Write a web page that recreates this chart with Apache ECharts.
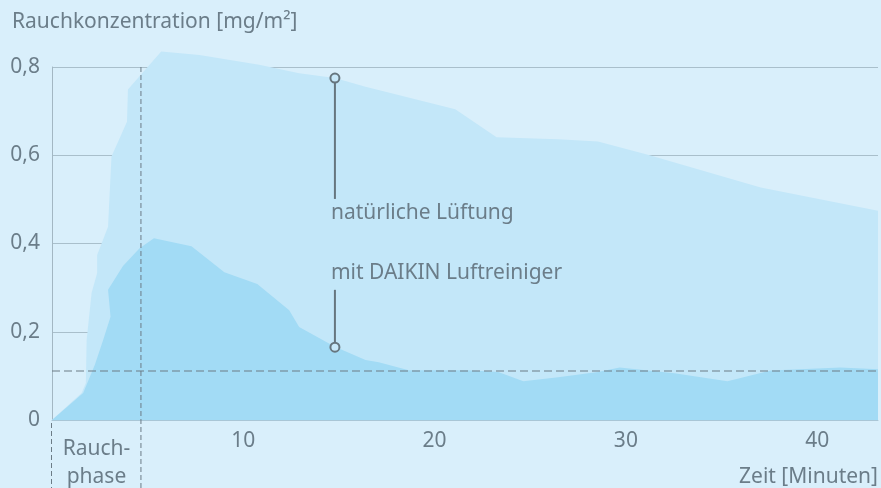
<!DOCTYPE html>
<html>
<head>
<meta charset="utf-8">
<script src="https://cdn.jsdelivr.net/npm/echarts@6/dist/echarts.min.js"></script>
<style>
  html, body { margin: 0; padding: 0; background: #d9effb; }
  #chart { width: 881px; height: 488px; }
</style>
</head>
<body>
<div id="chart"></div>
<script>
// ---- data ----
const yTitle = 'Rauchkonzentration [mg/m²]';
const xTitle = 'Zeit [Minuten]';
const xTicks = [10, 20, 30, 40];
const yTicks = [0, 0.2, 0.4, 0.6, 0.8];
const smokePhaseLabel = ['Rauch-', 'phase'];
const smokePhaseEnd = 4.65;     // minutes
const limitValue = 0.111;       // mg/m²

// natürliche Lüftung
const naturalX = [0, 1.55, 1.77, 1.81, 2.07, 2.36, 2.36, 2.93, 3.11, 3.92, 3.97, 5.71, 7.71, 10.83, 12.92, 14.79, 16.39, 21.08, 23.24, 26.46, 28.54, 31.15, 37.05, 43.18];
const naturalY = [0, 0.061, 0.084, 0.181, 0.288, 0.333, 0.374, 0.438, 0.597, 0.676, 0.749, 0.835, 0.827, 0.805, 0.786, 0.775, 0.755, 0.704, 0.641, 0.636, 0.631, 0.601, 0.527, 0.474];

// mit DAIKIN Luftreiniger
const daikinX = [0, 1.63, 2.24, 2.67, 3.06, 2.93, 3.71, 4.58, 5.33, 7.29, 9.01, 10.73, 12.4, 12.92, 14.79, 16.39, 17.08, 18.65, 21.77, 23.33, 24.64, 26.46, 28.54, 29.67, 32.54, 35.31, 37.57, 41.21, 43.18];
const daikinY = [0, 0.061, 0.125, 0.181, 0.234, 0.295, 0.349, 0.389, 0.412, 0.394, 0.335, 0.308, 0.249, 0.211, 0.166, 0.136, 0.131, 0.113, 0.113, 0.109, 0.088, 0.097, 0.109, 0.119, 0.106, 0.088, 0.112, 0.119, 0.115];

// annotations
const annotationX = 14.79;
const naturalLabel = 'natürliche Lüftung';
const naturalMarker = [0.775, 0.501];   // circle value, line end value
const naturalTextY = 0.469;
const daikinLabel = 'mit DAIKIN Luftreiniger';
const daikinMarker = [0.165, 0.295];
const daikinTextY = 0.333;

// ---- chart ----
const FONT = '"Noto Sans", sans-serif';
const FS = 21;
const TEXT = '#6b7d89';
const DASH = '#6c7c86';
const chart = echarts.init(document.getElementById('chart'), null, { renderer: 'canvas' });

const zip = (xs, ys) => xs.map((x, i) => [x, ys[i]]);
const xMax = 43.18;

chart.setOption({
  backgroundColor: '#d9effb',
  animation: false,
  title: {
    text: yTitle, left: 7, top: 7,
    textStyle: { fontFamily: FONT, fontSize: FS, fontWeight: 'normal', color: TEXT }
  },
  grid: { left: 52, right: 0, top: 67, bottom: 68 },
  xAxis: {
    type: 'value', min: 0, max: xMax, interval: 10,
    axisLine: { show: true, lineStyle: { color: '#a9c6d6', width: 1 } },
    axisTick: { show: false },
    splitLine: { show: false },
    axisLabel: {
      margin: 11, fontFamily: FONT, fontSize: FS, color: TEXT,
      formatter: v => xTicks.includes(v) ? String(v) : ''
    }
  },
  yAxis: {
    type: 'value', min: 0, max: 0.8, interval: 0.2,
    axisLine: { show: true, lineStyle: { color: '#a3b7c3', width: 1 } },
    axisTick: { show: false },
    splitLine: { show: true, lineStyle: { color: '#a9bfcb', width: 1 } },
    axisLabel: {
      margin: 12, fontFamily: FONT, fontSize: FS, color: TEXT,
      formatter: v => {
        const t = yTicks.find(k => Math.abs(k - v) < 1e-9);
        if (t === undefined) return '';
        return t === 0 ? '0' : t.toFixed(1).replace('.', ',');
      }
    }
  },
  series: [
    {
      name: naturalLabel, type: 'line', data: zip(naturalX, naturalY),
      symbol: 'none', clip: false, z: 1,
      lineStyle: { width: 0 },
      areaStyle: { color: '#c3e7f9', opacity: 1 }
    },
    {
      name: daikinLabel, type: 'line', data: zip(daikinX, daikinY),
      symbol: 'none', clip: false, z: 2,
      lineStyle: { width: 0 },
      areaStyle: { color: '#a2dbf5', opacity: 1 }
    },
    {
      type: 'line', z: 5, clip: false,
      data: [[annotationX, naturalMarker[0]], { value: [annotationX, naturalMarker[1]], symbol: 'none' }],
      symbol: 'circle', symbolSize: 9, showSymbol: true,
      itemStyle: { color: '#c8e9fa', borderColor: '#66767f', borderWidth: 2 },
      lineStyle: { color: '#66767f', width: 2 }
    },
    {
      type: 'line', z: 5, clip: false,
      data: [[annotationX, daikinMarker[0]], { value: [annotationX, daikinMarker[1]], symbol: 'none' }],
      symbol: 'circle', symbolSize: 9, showSymbol: true,
      itemStyle: { color: '#c8e9fa', borderColor: '#66767f', borderWidth: 2 },
      lineStyle: { color: '#66767f', width: 2 }
    }
  ]
});

function px(x, y) { return chart.convertToPixel({ gridIndex: 0 }, [x, y]); }
const origin = px(0, 0);
const topLeft = px(0, 0.8);
const smokeEnd = px(smokePhaseEnd, 0);
const limitL = px(0, limitValue);
const limitR = px(xMax, limitValue);
const natTxt = px(annotationX, naturalTextY);
const daiTxt = px(annotationX, daikinTextY);
const H = 488, W = 881;
const textStyle = (t, x, y, align) => ({
  type: 'text', x: x, y: y, z: 20,
  style: { text: t, font: FS + 'px ' + FONT, fill: TEXT, align: align || 'left', verticalAlign: 'middle' }
});

chart.setOption({
  graphic: [
    { type: 'line', z: 10, shape: { x1: smokeEnd[0], y1: topLeft[1], x2: smokeEnd[0], y2: H },
      style: { stroke: DASH, lineWidth: 1, lineDash: [5, 3] } },
    { type: 'line', z: 10, shape: { x1: origin[0] - 0.5, y1: origin[1] + 3, x2: origin[0] - 0.5, y2: H },
      style: { stroke: DASH, lineWidth: 1, lineDash: [5, 3] } },
    { type: 'line', z: 10, shape: { x1: limitL[0], y1: limitL[1], x2: limitR[0], y2: limitR[1] },
      style: { stroke: DASH, lineWidth: 1.2, lineDash: [8, 4] } },
    textStyle(smokePhaseLabel[0], (origin[0] + smokeEnd[0]) / 2, origin[1] + 29, 'center'),
    textStyle(smokePhaseLabel[1], (origin[0] + smokeEnd[0]) / 2, origin[1] + 57, 'center'),
    textStyle(xTitle, W - 3, origin[1] + 57, 'right'),
    textStyle(naturalLabel, natTxt[0] - 4, natTxt[1], 'left'),
    textStyle(daikinLabel, daiTxt[0] - 4, daiTxt[1], 'left')
  ]
});
</script>
</body>
</html>
